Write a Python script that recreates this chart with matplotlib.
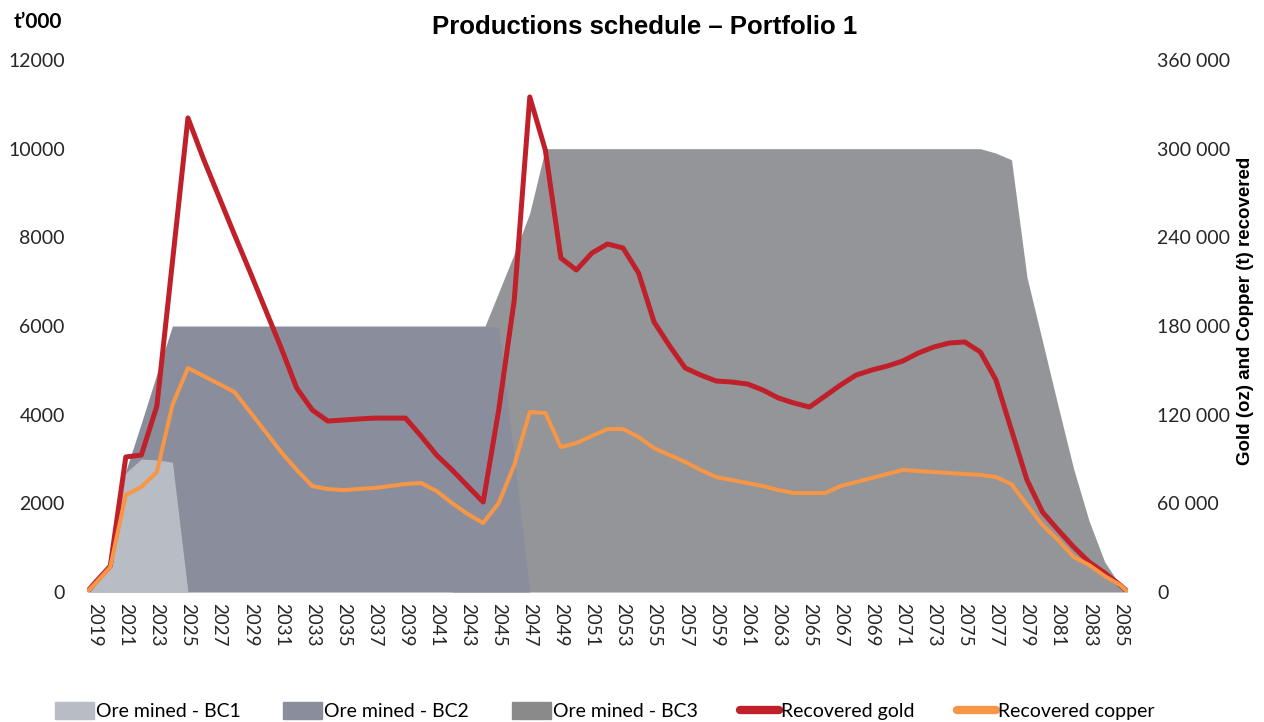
import numpy as np
import matplotlib
matplotlib.use("Agg")
import matplotlib.pyplot as plt
from matplotlib.patches import Patch
from matplotlib.lines import Line2D

# -------------------------------
# DATA
# -------------------------------
years = np.arange(2019, 2086)

# ore mined, t'000
ore_bc1 = [150, 700, 2690, 3000, 2980, 2930] + [0] * 61
ore_bc2 = [100, 500, 2730, 3810, 4920] + [6000] * 21 + [5970, 3000] + [0] * 39
ore_bc3 = ([0] * 24 + [4000, 5900, 6760, 7630, 8550] + [10000] * 29 +
           [9900, 9750, 7100, 5650, 4200, 2780, 1600, 680, 150])

# recovered gold (oz)
gold = [6100, 17600, 91400, 92700, 125900, 223300, 320800, 293000, 267300, 241600,
        216500, 190800, 165100, 138000, 123200, 115700, 116400, 117100, 117700, 117700,
        117700, 105600, 92700, 82600, 71700, 60900, 123200, 197600, 335000, 299100,
        226000, 217900, 229400, 235500, 232800, 215900, 182700, 166500, 151600, 146800,
        142800, 142100, 140800, 136700, 131300, 127900, 125200, 132600, 140100, 146800,
        150200, 152900, 156300, 161700, 165800, 168500, 169200, 162400, 143500, 109600,
        75800, 54100, 42000, 30500, 20300, 12900, 4700]

# recovered copper (t)
copper = [5400, 16900, 65600, 71100, 81200, 126500, 151600, 146200, 140800, 135300,
          121800, 108300, 94700, 82600, 71700, 69700, 69000, 69700, 70400, 71700,
          73100, 73800, 68300, 60200, 52800, 46700, 60200, 85900, 121800, 121100,
          98100, 100800, 105600, 110300, 110300, 104900, 97400, 92700, 88000, 82600,
          77800, 75800, 73800, 71700, 69000, 67000, 67000, 67000, 71700, 74400,
          77100, 79900, 82600, 81900, 81200, 80500, 79900, 79200, 77800, 73100,
          58900, 45300, 35200, 23700, 18300, 10800, 4700]

# -------------------------------
# PLOT
# -------------------------------
plt.rcParams["font.family"] = ["Lato", "DejaVu Sans"]

c_bc1 = "#B8BCC4"
c_bc2 = "#8A8E9C"
c_bc3 = "#939598"
c_gold = "#C0202A"
c_copper = "#F79646"

# series run to zero at the plot edges
xs = np.r_[years[0] - 0.5, years, years[-1] + 0.5]
pad = lambda v: np.r_[0, v, 0]

fig = plt.figure(figsize=(12.64, 7.22), dpi=100)
ax = fig.add_axes([0.0688, 0.18, 0.8236, 0.7369])
ax2 = ax.twinx()

ax.fill_between(xs, pad(ore_bc3), color=c_bc3, lw=0)
ax.fill_between(xs, pad(ore_bc2), color=c_bc2, lw=0)
ax.fill_between(xs, pad(ore_bc1), color=c_bc1, lw=0)

ax2.plot(xs, pad(gold), color=c_gold, lw=3.6, solid_joinstyle="round")
ax2.plot(xs, pad(copper), color=c_copper, lw=2.9, solid_joinstyle="round")

ax.set_xlim(years[0] - 0.5, years[-1] + 0.5)
ax.set_ylim(0, 12000)
ax2.set_ylim(0, 360000)

ax.set_yticks(range(0, 12001, 2000))
ax2.set_yticks(range(0, 360001, 60000))
ax2.set_yticklabels([f"{v:,}".replace(",", " ") for v in range(0, 360001, 60000)])
ax.set_xticks(years[::2])
ax.set_xticklabels([str(y) for y in years[::2]], rotation=-90)

ax.tick_params(axis="y", length=0, pad=16, labelsize=14, labelcolor="#262626")
ax2.tick_params(axis="y", length=0, pad=21, labelsize=14, labelcolor="#262626")
ax.tick_params(axis="x", length=0, pad=8, labelsize=13.5, labelcolor="#262626")

for a in (ax, ax2):
    for s in a.spines.values():
        s.set_visible(False)

fig.text(0.51, 0.962, "Productions schedule \u2013 Portfolio 1", ha="center", va="center",
         fontsize=18.5, fontweight="bold", family=["Liberation Sans", "DejaVu Sans"])
fig.text(0.011, 0.97, "t\u2019000", ha="left", va="center", fontsize=15, fontweight="bold")
fig.text(0.985, 0.569, "Gold (oz) and Copper (t) recovered", rotation=90, ha="center",
         va="center", fontsize=13.5, fontweight="bold", family=["Liberation Sans", "DejaVu Sans"])

handles = [Patch(color=c_bc1), Patch(color=c_bc2), Patch(color="#8A8A8A"),
           Line2D([], [], color=c_gold, lw=6, solid_capstyle="round"),
           Line2D([], [], color=c_copper, lw=6, solid_capstyle="round")]
labels = ["Ore mined - BC1", "Ore mined - BC2", "Ore mined - BC3",
          "Recovered gold", "Recovered copper"]
fig.legend(handles, labels, loc="center left", bbox_to_anchor=(55 / 1264, 0.015), ncol=5,
           frameon=False, handlelength=2.0, handleheight=1.0, handletextpad=0.1,
           columnspacing=2.2, borderpad=0, borderaxespad=0,
           prop={"family": ["Lato", "DejaVu Sans"], "size": 14})

plt.savefig("out.png", dpi=100)
plt.close()
